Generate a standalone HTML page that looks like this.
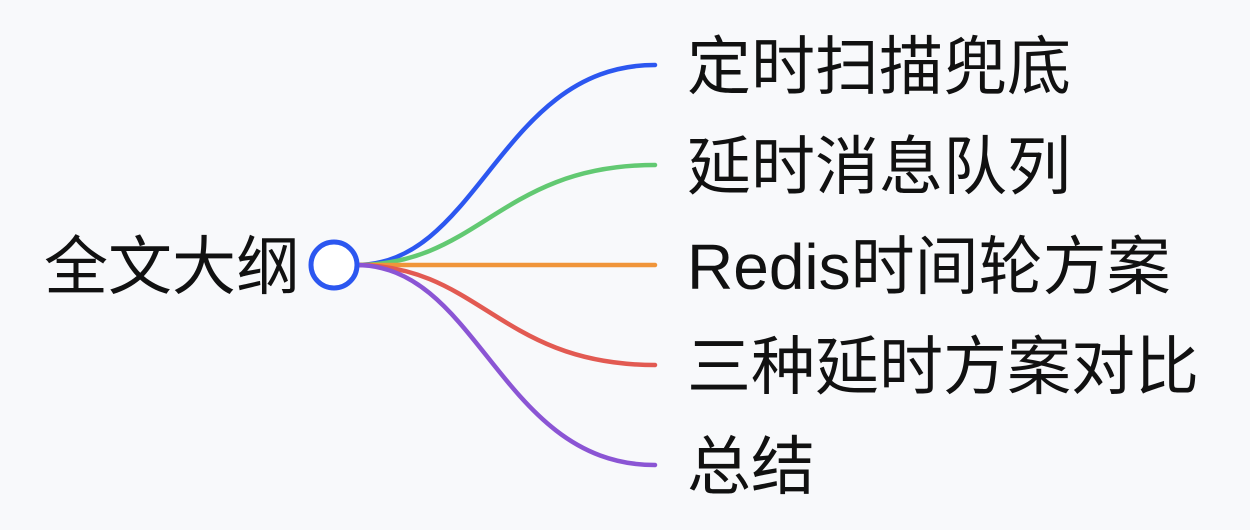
<!DOCTYPE html>
<html><head><meta charset="utf-8"><style>
html,body{margin:0;padding:0;background:#f8f9fb;}
svg{display:block}
text{font-family:"Liberation Sans","Noto Sans CJK SC",sans-serif;font-size:64px;fill:#111;}
</style></head><body>
<svg width="1250" height="530" viewBox="0 0 1250 530">
<rect width="1250" height="530" fill="#f8f9fb"/>
<g fill="none" stroke-width="4.5" stroke-linecap="round">
<path d="M356,265 C480,265 500,65 655,65" stroke="#2c57f0"/>
<path d="M356,265 C480,265 500,165 655,165" stroke="#62c972"/>
<path d="M356,265 L655,265" stroke="#f0953a"/>
<path d="M356,265 C480,265 500,365 655,365" stroke="#e25a52"/>
<path d="M356,265 C480,265 500,465 655,465" stroke="#8b55d4"/>
</g>
<circle cx="334" cy="265" r="23" fill="#fff" stroke="#2c57f0" stroke-width="5"/>
<text x="44" y="289">全文大纲</text>
<text x="687" y="89">定时扫描兜底</text>
<text x="687" y="189">延时消息队列</text>
<text x="687" y="289">Redis时间轮方案</text>
<text x="687" y="389">三种延时方案对比</text>
<text x="687" y="489">总结</text>
</svg>
</body></html>
